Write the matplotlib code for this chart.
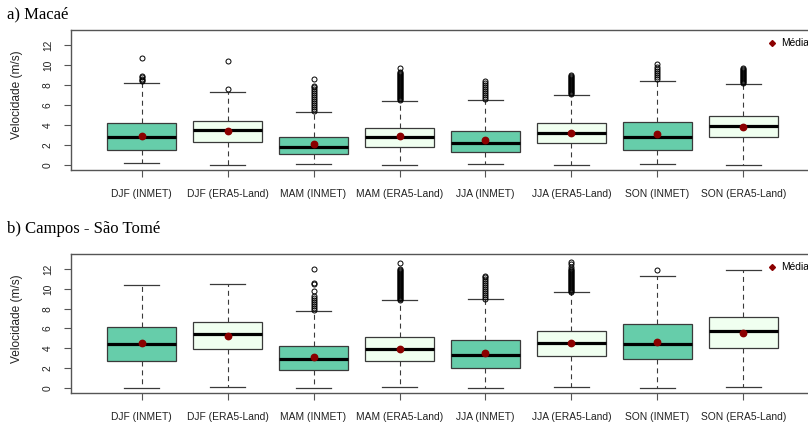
import matplotlib
matplotlib.use("Agg")
import matplotlib.pyplot as plt
from matplotlib.lines import Line2D

# ---------------- data ----------------
categories = ["DJF (INMET)", "DJF (ERA5-Land)", "MAM (INMET)", "MAM (ERA5-Land)",
              "JJA (INMET)", "JJA (ERA5-Land)", "SON (INMET)", "SON (ERA5-Land)"]
sources = ["INMET", "ERA5", "INMET", "ERA5", "INMET", "ERA5", "INMET", "ERA5"]
yticks = [0, 2, 4, 6, 8, 10, 12]

# a) Macaé
macae_whislo = [0.15, 0.0, 0.1, 0.0, 0.1, 0.0, 0.1, 0.0]
macae_q1 = [1.5, 2.3, 1.1, 1.8, 1.25, 2.2, 1.5, 2.75]
macae_median = [2.75, 3.45, 1.75, 2.8, 2.15, 3.2, 2.75, 3.85]
macae_q3 = [4.2, 4.4, 2.8, 3.7, 3.4, 4.15, 4.3, 4.9]
macae_whishi = [8.25, 7.35, 5.3, 6.4, 6.5, 7.0, 8.45, 8.15]
macae_mean = [2.9, 3.35, 2.07, 2.9, 2.48, 3.2, 3.1, 3.75]
macae_outliers = [
    [8.4, 8.5, 8.6, 8.8, 8.9, 10.7],
    [7.65, 10.45],
    [5.4, 5.6, 5.8, 6.0, 6.2, 6.4, 6.6, 6.8, 7.0, 7.2, 7.4, 7.6, 7.8, 7.9, 8.65],
    [6.5, 6.6, 6.7, 6.8, 6.9, 7.0, 7.1, 7.2, 7.3, 7.4, 7.5, 7.6, 7.7, 7.8, 7.9,
     8.0, 8.1, 8.2, 8.3, 8.4, 8.5, 8.6, 8.7, 8.8, 8.9, 9.0, 9.1, 9.2, 9.3, 9.75],
    [6.6, 6.8, 7.0, 7.2, 7.4, 7.6, 7.8, 8.0, 8.2, 8.4],
    [7.1, 7.2, 7.3, 7.4, 7.5, 7.6, 7.7, 7.8, 7.9, 8.0, 8.1, 8.2, 8.3, 8.4, 8.5,
     8.6, 8.7, 8.8, 8.9, 9.0],
    [8.6, 8.8, 9.0, 9.2, 9.4, 9.6, 9.8, 10.15],
    [8.25, 8.35, 8.45, 8.55, 8.65, 8.75, 8.85, 8.95, 9.05, 9.15, 9.25, 9.35,
     9.45, 9.55, 9.65, 9.75],
]

# b) Campos - São Tomé
campos_whislo = [0.0, 0.07, 0.0, 0.07, 0.0, 0.07, 0.0, 0.07]
campos_q1 = [2.68, 3.88, 1.82, 2.68, 1.96, 3.2, 2.88, 4.0]
campos_median = [4.44, 5.47, 2.92, 3.88, 3.31, 4.5, 4.4, 5.7]
campos_q3 = [6.13, 6.63, 4.18, 5.1, 4.8, 5.77, 6.4, 7.19]
campos_whishi = [10.4, 10.5, 7.76, 8.85, 8.95, 9.65, 11.3, 11.87]
campos_mean = [4.54, 5.24, 3.15, 3.9, 3.48, 4.5, 4.64, 5.5]
campos_outliers = [
    [],
    [],
    [7.9, 8.1, 8.3, 8.5, 8.7, 8.9, 9.1, 9.3, 9.8, 10.5, 10.6, 12.05],
    [8.9, 9.0, 9.1, 9.2, 9.3, 9.4, 9.5, 9.6, 9.7, 9.8, 9.9, 10.0, 10.1, 10.2,
     10.3, 10.4, 10.5, 10.6, 10.7, 10.8, 10.9, 11.0, 11.1, 11.2, 11.3, 11.4,
     11.5, 11.6, 11.7, 11.8, 11.9, 12.0, 12.66],
    [9.0, 9.2, 9.4, 9.6, 9.8, 10.0, 10.2, 10.4, 10.6, 10.8, 11.0, 11.2, 11.3],
    [9.7, 9.8, 9.9, 10.0, 10.1, 10.2, 10.3, 10.4, 10.5, 10.6, 10.7, 10.8, 10.9,
     11.0, 11.1, 11.2, 11.3, 11.4, 11.5, 11.6, 11.7, 11.8, 11.9, 12.0, 12.2,
     12.5, 12.75],
    [11.9],
    [],
]

panel_titles = ["a) Macaé", "b) Campos - São Tomé"]
ylabel = "Velocidade (m/s)"
legend_label = "Média"

# ---------------- style ----------------
fill_colors = {"INMET": "#66CDAA", "ERA5": "#F0FFF0"}
edge_col = "#3a3a3a"
frame_col = "#555555"
mean_col = "#8B0000"
sans = ["Liberation Sans", "DejaVu Sans"]
serif = ["Liberation Serif", "DejaVu Serif"]

W, H = 808, 429
fig = plt.figure(figsize=(W / 100, H / 100), dpi=100)


def fx(px):
    return px / W


def fy(py):
    return 1 - py / H


def draw_panel(top, bottom, title_base, title, lo, q1, med, q3, hi, mean, outl, leg_y):
    ax = fig.add_axes([fx(71), fy(bottom), fx(814 - 71), (bottom - top) / H])
    stats = []
    for i in range(len(categories)):
        stats.append(dict(whislo=lo[i], q1=q1[i], med=med[i], q3=q3[i],
                          whishi=hi[i], mean=mean[i], fliers=outl[i],
                          label=categories[i]))
    pos = list(range(1, len(categories) + 1))
    bp = ax.bxp(stats, positions=pos, widths=0.8, patch_artist=True,
                showmeans=True, showfliers=True,
                boxprops=dict(edgecolor=edge_col, linewidth=0.9),
                medianprops=dict(color="black", linewidth=2.3, solid_capstyle="butt"),
                whiskerprops=dict(color=edge_col, linewidth=0.8, linestyle=(0, (4.5, 3.5))),
                capprops=dict(color=edge_col, linewidth=0.9),
                meanprops=dict(marker="o", markerfacecolor=mean_col,
                               markeredgecolor=mean_col, markersize=4.6),
                flierprops=dict(marker="o", markerfacecolor="none",
                                markeredgecolor="black", markersize=3.6,
                                markeredgewidth=0.7))
    for patch, src in zip(bp["boxes"], sources):
        patch.set_facecolor(fill_colors[src])
    ax.set_xlim(0.18, 8.82)
    ax.set_ylim(-0.52, 13.52)
    ax.set_yticks(yticks)
    ax.set_yticklabels([str(v) for v in yticks])
    ax.set_xticks(pos)
    ax.set_xticklabels(categories)
    for s in ax.spines.values():
        s.set_color(frame_col)
        s.set_linewidth(1.0)
    ax.tick_params(axis="x", length=5, width=0.8, color=frame_col, pad=8.5,
                   labelsize=7.4, labelcolor="#222222")
    ax.tick_params(axis="y", length=5, width=0.8, color=frame_col, pad=8,
                   labelsize=7.4, labelcolor="#222222", labelrotation=90)
    for lbl in ax.get_xticklabels() + ax.get_yticklabels():
        lbl.set_family(sans)
    for lbl in ax.get_yticklabels():
        lbl.set_va("center")
    fig.text(fx(17), fy((top + bottom) / 2 - 5), ylabel, rotation=90,
             ha="center", va="center", fontsize=8.6, family=sans, color="#222222")
    fig.text(fx(7), fy(title_base), title, ha="left", va="baseline",
             fontsize=12, family=serif, color="black")
    h = Line2D([], [], linestyle="none", marker="D", markersize=3.0,
               markerfacecolor=mean_col, markeredgecolor=mean_col)
    ax.legend([h], [legend_label], loc="center left",
              bbox_to_anchor=(fx(768), fy(leg_y)), bbox_transform=fig.transFigure,
              frameon=False, handlelength=0.8, handletextpad=0.5,
              borderpad=0, borderaxespad=0,
              prop=dict(family=sans, size=7.4))
    return ax


draw_panel(30, 170, 18.5, panel_titles[0], macae_whislo, macae_q1, macae_median,
           macae_q3, macae_whishi, macae_mean, macae_outliers, 43.5)
draw_panel(254, 393, 233.3, panel_titles[1], campos_whislo, campos_q1, campos_median,
           campos_q3, campos_whishi, campos_mean, campos_outliers, 267.5)

fig.savefig("out.png", dpi=100)
